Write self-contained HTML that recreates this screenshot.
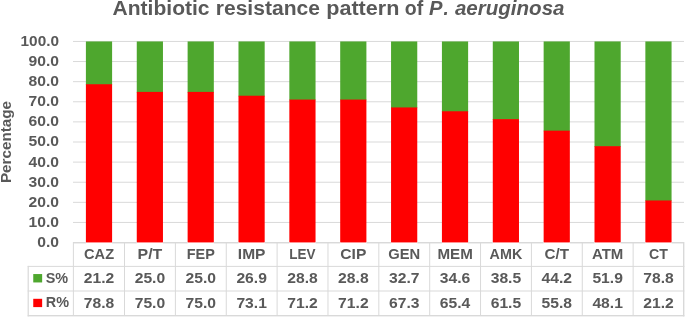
<!DOCTYPE html>
<html><head><meta charset="utf-8"><title>Antibiotic resistance pattern of P. aeruginosa</title>
<style>
html,body{margin:0;padding:0;background:#fff;}
body{width:685px;height:317px;overflow:hidden;}
svg{display:block;}
text{font-family:"Liberation Sans",sans-serif;font-weight:bold;fill:#595959;}
</style></head><body>
<svg width="685" height="317" viewBox="0 0 685 317">
<rect width="685" height="317" fill="#ffffff"/>
<line x1="73" x2="684" y1="222.44" y2="222.44" stroke="#d9d9d9" stroke-width="1"/>
<line x1="73" x2="684" y1="202.33" y2="202.33" stroke="#d9d9d9" stroke-width="1"/>
<line x1="73" x2="684" y1="182.22" y2="182.22" stroke="#d9d9d9" stroke-width="1"/>
<line x1="73" x2="684" y1="162.11" y2="162.11" stroke="#d9d9d9" stroke-width="1"/>
<line x1="73" x2="684" y1="142.00" y2="142.00" stroke="#d9d9d9" stroke-width="1"/>
<line x1="73" x2="684" y1="121.89" y2="121.89" stroke="#d9d9d9" stroke-width="1"/>
<line x1="73" x2="684" y1="101.78" y2="101.78" stroke="#d9d9d9" stroke-width="1"/>
<line x1="73" x2="684" y1="81.67" y2="81.67" stroke="#d9d9d9" stroke-width="1"/>
<line x1="73" x2="684" y1="61.56" y2="61.56" stroke="#d9d9d9" stroke-width="1"/>
<line x1="73" x2="684" y1="41.45" y2="41.45" stroke="#d9d9d9" stroke-width="1"/>
<rect x="85.90" y="41.45" width="26.2" height="43.48" fill="#4ea72e"/>
<rect x="85.90" y="84.23" width="26.2" height="158.19" fill="#ff0000"/>
<rect x="136.76" y="41.45" width="26.2" height="51.15" fill="#4ea72e"/>
<rect x="136.76" y="91.90" width="26.2" height="150.52" fill="#ff0000"/>
<rect x="187.62" y="41.45" width="26.2" height="51.15" fill="#4ea72e"/>
<rect x="187.62" y="91.90" width="26.2" height="150.52" fill="#ff0000"/>
<rect x="238.48" y="41.45" width="26.2" height="54.98" fill="#4ea72e"/>
<rect x="238.48" y="95.73" width="26.2" height="146.69" fill="#ff0000"/>
<rect x="289.34" y="41.45" width="26.2" height="58.82" fill="#4ea72e"/>
<rect x="289.34" y="99.57" width="26.2" height="142.85" fill="#ff0000"/>
<rect x="340.20" y="41.45" width="26.2" height="58.82" fill="#4ea72e"/>
<rect x="340.20" y="99.57" width="26.2" height="142.85" fill="#ff0000"/>
<rect x="391.06" y="41.45" width="26.2" height="66.69" fill="#4ea72e"/>
<rect x="391.06" y="107.44" width="26.2" height="134.98" fill="#ff0000"/>
<rect x="441.92" y="41.45" width="26.2" height="70.52" fill="#4ea72e"/>
<rect x="441.92" y="111.27" width="26.2" height="131.15" fill="#ff0000"/>
<rect x="492.78" y="41.45" width="26.2" height="78.39" fill="#4ea72e"/>
<rect x="492.78" y="119.14" width="26.2" height="123.28" fill="#ff0000"/>
<rect x="543.64" y="41.45" width="26.2" height="89.90" fill="#4ea72e"/>
<rect x="543.64" y="130.65" width="26.2" height="111.77" fill="#ff0000"/>
<rect x="594.50" y="41.45" width="26.2" height="105.43" fill="#4ea72e"/>
<rect x="594.50" y="146.18" width="26.2" height="96.24" fill="#ff0000"/>
<rect x="645.36" y="41.45" width="26.2" height="159.72" fill="#4ea72e"/>
<rect x="645.36" y="200.47" width="26.2" height="41.95" fill="#ff0000"/>
<rect x="73.00" y="242" width="12.90" height="1.45" fill="#d9d9d9"/>
<rect x="112.10" y="242" width="24.66" height="1.45" fill="#d9d9d9"/>
<rect x="162.96" y="242" width="24.66" height="1.45" fill="#d9d9d9"/>
<rect x="213.82" y="242" width="24.66" height="1.45" fill="#d9d9d9"/>
<rect x="264.68" y="242" width="24.66" height="1.45" fill="#d9d9d9"/>
<rect x="315.54" y="242" width="24.66" height="1.45" fill="#d9d9d9"/>
<rect x="366.40" y="242" width="24.66" height="1.45" fill="#d9d9d9"/>
<rect x="417.26" y="242" width="24.66" height="1.45" fill="#d9d9d9"/>
<rect x="468.12" y="242" width="24.66" height="1.45" fill="#d9d9d9"/>
<rect x="518.98" y="242" width="24.66" height="1.45" fill="#d9d9d9"/>
<rect x="569.84" y="242" width="24.66" height="1.45" fill="#d9d9d9"/>
<rect x="620.70" y="242" width="24.66" height="1.45" fill="#d9d9d9"/>
<rect x="671.56" y="242" width="12.44" height="1.45" fill="#d9d9d9"/>
<line x1="27.7" x2="684.4" y1="266.4" y2="266.4" stroke="#d9d9d9"/>
<line x1="27.7" x2="684.4" y1="291.0" y2="291.0" stroke="#d9d9d9"/>
<rect x="27.7" y="315" width="656.7" height="1.4" fill="#d9d9d9"/>
<rect x="27.6" y="265.9" width="1.2" height="50.50" fill="#d9d9d9"/>
<rect x="683" y="242" width="1.4" height="74.4" fill="#d9d9d9"/>
<line x1="73.40" x2="73.40" y1="242" y2="315.5" stroke="#d9d9d9"/>
<line x1="124.53" x2="124.53" y1="242" y2="315.5" stroke="#d9d9d9"/>
<line x1="175.39" x2="175.39" y1="242" y2="315.5" stroke="#d9d9d9"/>
<line x1="226.25" x2="226.25" y1="242" y2="315.5" stroke="#d9d9d9"/>
<line x1="277.11" x2="277.11" y1="242" y2="315.5" stroke="#d9d9d9"/>
<line x1="327.97" x2="327.97" y1="242" y2="315.5" stroke="#d9d9d9"/>
<line x1="378.83" x2="378.83" y1="242" y2="315.5" stroke="#d9d9d9"/>
<line x1="429.69" x2="429.69" y1="242" y2="315.5" stroke="#d9d9d9"/>
<line x1="480.55" x2="480.55" y1="242" y2="315.5" stroke="#d9d9d9"/>
<line x1="531.41" x2="531.41" y1="242" y2="315.5" stroke="#d9d9d9"/>
<line x1="582.27" x2="582.27" y1="242" y2="315.5" stroke="#d9d9d9"/>
<line x1="633.13" x2="633.13" y1="242" y2="315.5" stroke="#d9d9d9"/>
<rect x="33.25" y="274.05" width="8.9" height="8.4" fill="#4ea72e"/>
<rect x="33.25" y="298.8" width="8.9" height="8.3" fill="#ff0000"/>
<text transform="translate(45.70,282.60) scale(1.0300,1)" text-anchor="start" font-size="14">S%</text>
<text transform="translate(45.80,307.10) scale(1.0300,1)" text-anchor="start" font-size="14">R%</text>
<text transform="translate(99.05,259.00) scale(1.0430,1)" text-anchor="middle" font-size="14">CAZ</text>
<text transform="translate(99.05,283.20) scale(1.1200,1)" text-anchor="middle" font-size="14">21.2</text>
<text transform="translate(99.05,307.80) scale(1.1200,1)" text-anchor="middle" font-size="14">78.8</text>
<text transform="translate(149.91,259.00) scale(1.1370,1)" text-anchor="middle" font-size="14">P/T</text>
<text transform="translate(149.91,283.20) scale(1.1200,1)" text-anchor="middle" font-size="14">25.0</text>
<text transform="translate(149.91,307.80) scale(1.1200,1)" text-anchor="middle" font-size="14">75.0</text>
<text transform="translate(200.77,259.00) scale(1.0310,1)" text-anchor="middle" font-size="14">FEP</text>
<text transform="translate(200.77,283.20) scale(1.1200,1)" text-anchor="middle" font-size="14">25.0</text>
<text transform="translate(200.77,307.80) scale(1.1200,1)" text-anchor="middle" font-size="14">75.0</text>
<text transform="translate(251.63,259.00) scale(1.1100,1)" text-anchor="middle" font-size="14">IMP</text>
<text transform="translate(251.63,283.20) scale(1.1200,1)" text-anchor="middle" font-size="14">26.9</text>
<text transform="translate(251.63,307.80) scale(1.1200,1)" text-anchor="middle" font-size="14">73.1</text>
<text transform="translate(302.49,259.00) scale(0.9640,1)" text-anchor="middle" font-size="14">LEV</text>
<text transform="translate(302.49,283.20) scale(1.1200,1)" text-anchor="middle" font-size="14">28.8</text>
<text transform="translate(302.49,307.80) scale(1.1200,1)" text-anchor="middle" font-size="14">71.2</text>
<text transform="translate(353.35,259.00) scale(1.1150,1)" text-anchor="middle" font-size="14">CIP</text>
<text transform="translate(353.35,283.20) scale(1.1200,1)" text-anchor="middle" font-size="14">28.8</text>
<text transform="translate(353.35,307.80) scale(1.1200,1)" text-anchor="middle" font-size="14">71.2</text>
<text transform="translate(404.21,259.00) scale(1.0540,1)" text-anchor="middle" font-size="14">GEN</text>
<text transform="translate(404.21,283.20) scale(1.1200,1)" text-anchor="middle" font-size="14">32.7</text>
<text transform="translate(404.21,307.80) scale(1.1200,1)" text-anchor="middle" font-size="14">67.3</text>
<text transform="translate(455.07,259.00) scale(1.0840,1)" text-anchor="middle" font-size="14">MEM</text>
<text transform="translate(455.07,283.20) scale(1.1200,1)" text-anchor="middle" font-size="14">34.6</text>
<text transform="translate(455.07,307.80) scale(1.1200,1)" text-anchor="middle" font-size="14">65.4</text>
<text transform="translate(505.93,259.00) scale(1.0240,1)" text-anchor="middle" font-size="14">AMK</text>
<text transform="translate(505.93,283.20) scale(1.1200,1)" text-anchor="middle" font-size="14">38.5</text>
<text transform="translate(505.93,307.80) scale(1.1200,1)" text-anchor="middle" font-size="14">61.5</text>
<text transform="translate(556.79,259.00) scale(1.0850,1)" text-anchor="middle" font-size="14">C/T</text>
<text transform="translate(556.79,283.20) scale(1.1200,1)" text-anchor="middle" font-size="14">44.2</text>
<text transform="translate(556.79,307.80) scale(1.1200,1)" text-anchor="middle" font-size="14">55.8</text>
<text transform="translate(607.65,259.00) scale(1.0710,1)" text-anchor="middle" font-size="14">ATM</text>
<text transform="translate(607.65,283.20) scale(1.1200,1)" text-anchor="middle" font-size="14">51.9</text>
<text transform="translate(607.65,307.80) scale(1.1200,1)" text-anchor="middle" font-size="14">48.1</text>
<text transform="translate(658.51,259.00) scale(1.0110,1)" text-anchor="middle" font-size="14">CT</text>
<text transform="translate(658.51,283.20) scale(1.1200,1)" text-anchor="middle" font-size="14">78.8</text>
<text transform="translate(658.51,307.80) scale(1.1200,1)" text-anchor="middle" font-size="14">21.2</text>
<text transform="translate(59.00,246.95) scale(1.1200,1)" text-anchor="end" font-size="14">0.0</text>
<text transform="translate(59.00,226.84) scale(1.1200,1)" text-anchor="end" font-size="14">10.0</text>
<text transform="translate(59.00,206.73) scale(1.1200,1)" text-anchor="end" font-size="14">20.0</text>
<text transform="translate(59.00,186.62) scale(1.1200,1)" text-anchor="end" font-size="14">30.0</text>
<text transform="translate(59.00,166.51) scale(1.1200,1)" text-anchor="end" font-size="14">40.0</text>
<text transform="translate(59.00,146.40) scale(1.1200,1)" text-anchor="end" font-size="14">50.0</text>
<text transform="translate(59.00,126.29) scale(1.1200,1)" text-anchor="end" font-size="14">60.0</text>
<text transform="translate(59.00,106.18) scale(1.1200,1)" text-anchor="end" font-size="14">70.0</text>
<text transform="translate(59.00,86.07) scale(1.1200,1)" text-anchor="end" font-size="14">80.0</text>
<text transform="translate(59.00,65.96) scale(1.1200,1)" text-anchor="end" font-size="14">90.0</text>
<text transform="translate(59.00,45.85) scale(1.0970,1)" text-anchor="end" font-size="14">100.0</text>
<text font-size="14.5" text-anchor="middle" transform="translate(11.1,142.0) rotate(-90) scale(1.05,1)">Percentage</text>
<text y="15.2" font-size="19.5"><tspan x="112.55" textLength="97.0" lengthAdjust="spacingAndGlyphs">Antibiotic</tspan> <tspan x="215.75" textLength="104.2" lengthAdjust="spacingAndGlyphs">resistance</tspan> <tspan x="326.25" textLength="73.1" lengthAdjust="spacingAndGlyphs">pattern</tspan> <tspan x="404.75" textLength="18.4" lengthAdjust="spacingAndGlyphs">of</tspan> <tspan x="429.0" textLength="13.5" lengthAdjust="spacingAndGlyphs" font-style="italic">P</tspan><tspan x="443.5" textLength="5.2" lengthAdjust="spacingAndGlyphs" font-style="italic">.</tspan> <tspan x="454.9" textLength="109.6" lengthAdjust="spacingAndGlyphs" font-style="italic">aeruginosa</tspan></text>
</svg></body></html>
